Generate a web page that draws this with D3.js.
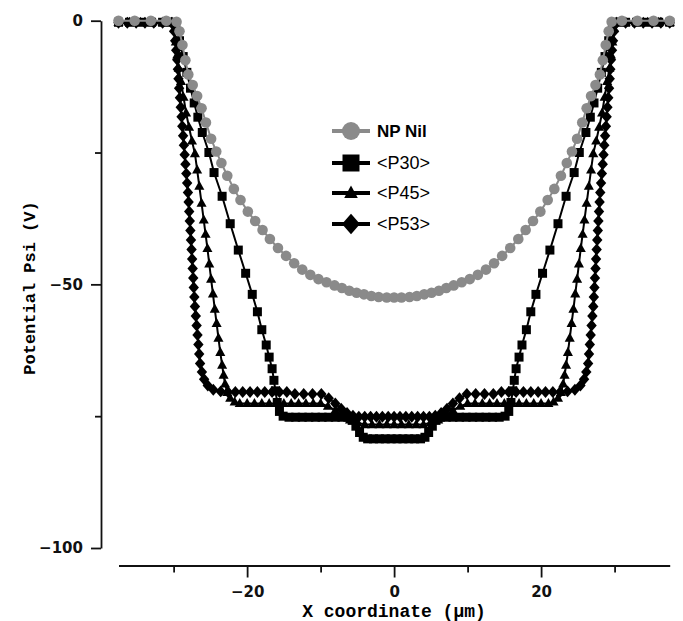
<!DOCTYPE html>
<html>
<head>
<meta charset="utf-8">
<script src="https://cdn.jsdelivr.net/npm/d3@7"></script>
<style>
  body { margin: 0; background: #fff; }
</style>
</head>
<body>
<svg id="chart" width="683" height="621"></svg>
<script>
// --- data (x in um, potential in V) ---
const seriesNames = ['NP Nil', '<P30>', '<P45>', '<P53>'];

const xNil = [-37.5,-35.3,-33.1,-31.0,-29.6,-29.2,-28.8,-28.4,-28.0,-27.4,-26.8,-26.2,-25.6,-24.9,-24.2,-23.5,-22.7,-21.8,-20.9,-19.9,
  -18.9,-17.9,-16.9,-15.8,-14.7,-13.6,-12.5,-11.4,-10.3,-9.2,-8.1,-7.1,-6.1,-5.1,-4.1,-3.1,-2.1,-1.0,0,
  1.0,2.1,3.1,4.1,5.1,6.1,7.1,8.1,9.2,10.3,11.4,12.5,13.6,14.7,15.8,16.9,17.9,18.9,19.9,
  20.9,21.8,22.7,23.5,24.2,24.9,25.6,26.2,26.8,27.4,28.0,28.4,28.8,29.2,29.6,31.0,33.1,35.3,37.5];
const yNil = [0,0,0,0,-0.2,-2.0,-4.6,-7.5,-10.2,-12.2,-14.3,-16.6,-19.3,-22.4,-24.8,-27.0,-29.4,-31.9,-34.0,-36.2,
  -38.0,-39.7,-41.4,-43.1,-44.6,-46.0,-47.2,-48.2,-49.0,-49.6,-50.2,-50.7,-51.2,-51.6,-51.9,-52.2,-52.4,-52.5,-52.5,
  -52.5,-52.4,-52.2,-51.9,-51.6,-51.2,-50.7,-50.2,-49.6,-49.0,-48.2,-47.2,-46.0,-44.6,-43.1,-41.4,-39.7,-38.0,-36.2,
  -34.0,-31.9,-29.4,-27.0,-24.8,-22.4,-19.3,-16.6,-14.3,-12.2,-10.2,-7.5,-4.6,-2.0,-0.2,0,0,0,0];

const xP30 = [-37.5,-36.0,-34.5,-33.0,-31.5,-30.3,-29.7,-29.2,-28.7,-28.2,-27.7,-27.2,-26.7,-26.1,
  -25.2,-24.5,-23.4,-22.3,-21.2,-20.2,-19.3,-18.6,-18.0,-17.4,-17.0,-16.6,-16.35,-16.15,-15.9,-15.6,-15.1,
  -14.3,-13.4,-12.5,-11.6,-10.7,-9.8,-8.9,-8.0,-7.1,-6.3,-5.7,-5.2,-4.7,-4.2,-3.6,-2.8,-2.0,-1.2,-0.4,
  0.4,1.2,2.0,2.8,3.6,4.2,4.7,5.2,5.7,6.3,7.1,8.0,8.9,9.8,10.7,11.6,12.5,13.4,14.3,
  15.1,15.6,15.9,16.15,16.35,16.6,17.0,17.4,18.0,18.6,19.3,20.2,21.2,22.3,23.4,24.5,25.2,
  26.1,26.7,27.2,27.7,28.2,28.7,29.2,29.7,30.3,31.5,33.0,34.5,36.0,37.5];
const yP30 = [-0.3,-0.3,-0.3,-0.3,-0.3,-0.3,-0.8,-3.8,-6.8,-9.8,-12.8,-15.6,-18.3,-21.2,
  -25.0,-28.8,-33.3,-38.5,-43.5,-47.9,-51.9,-55.2,-58.6,-61.5,-63.8,-66.0,-68.2,-70.2,-72.4,-74.1,-75.0,
  -75.2,-75.2,-75.2,-75.2,-75.2,-75.2,-75.2,-75.2,-75.2,-75.2,-75.8,-76.9,-78.1,-79.0,-79.3,-79.3,-79.3,-79.3,-79.3,
  -79.3,-79.3,-79.3,-79.3,-79.3,-79.0,-78.1,-76.9,-75.8,-75.2,-75.2,-75.2,-75.2,-75.2,-75.2,-75.2,-75.2,-75.2,-75.2,
  -75.0,-74.1,-72.4,-70.2,-68.2,-66.0,-63.8,-61.5,-58.6,-55.2,-51.9,-47.9,-43.5,-38.5,-33.3,-28.8,-25.0,
  -21.2,-18.3,-15.6,-12.8,-9.8,-6.8,-3.8,-0.8,-0.3,-0.3,-0.3,-0.3,-0.3,-0.3];

const xP45 = [-37.5,-36.0,-34.5,-33.0,-31.5,-30.2,
  -29.85,-29.7,-29.5,-29.3,-29.0,-28.65,-28.3,-27.9,-27.5,-27.1,-26.8,-26.5,-26.2,-25.9,-25.65,-25.4,-25.15,-24.9,-24.65,
  -24.4,-24.15,-23.9,-23.65,-23.4,-23.2,-23.0,-22.7,-22.3,-21.7,
  -21.0,-20.0,-19.0,-18.0,-17.0,-16.0,-15.0,-14.0,-13.0,-12.0,-11.0,-10.0,-9.0,-8.0,-7.0,-6.0,-5.0,
  -4.0,-3.0,-2.0,-1.0,0,1.0,2.0,3.0,4.0,
  5.0,6.0,7.0,8.0,9.0,10.0,11.0,12.0,13.0,14.0,15.0,16.0,17.0,18.0,19.0,20.0,21.0,
  21.7,22.3,22.7,23.0,23.2,23.4,23.65,23.9,24.15,24.4,24.65,24.9,25.15,25.4,25.65,25.9,26.2,26.5,26.8,
  27.1,27.5,27.9,28.3,28.65,29.0,29.3,29.5,29.7,29.85,30.2,31.5,33.0,34.5,36.0,37.5];
const yP45 = [-0.3,-0.3,-0.3,-0.3,-0.3,-0.3,
  -1.5,-4.0,-6.5,-9.0,-11.5,-14.5,-17.5,-20.2,-22.8,-25.2,-28.3,-31.4,-34.6,-37.8,-40.5,-43.2,-46.1,-49.0,-51.8,
  -54.7,-57.4,-60.2,-62.9,-65.3,-67.2,-68.9,-70.5,-71.6,-72.3,
  -72.6,-72.6,-72.6,-72.6,-72.6,-72.6,-72.6,-72.6,-72.6,-72.6,-72.6,-72.6,-73.1,-73.9,-74.9,-75.7,-76.2,
  -76.6,-76.6,-76.6,-76.6,-76.6,-76.6,-76.6,-76.6,-76.6,
  -76.2,-75.7,-74.9,-73.9,-73.1,-72.6,-72.6,-72.6,-72.6,-72.6,-72.6,-72.6,-72.6,-72.6,-72.6,-72.6,-72.6,
  -72.3,-71.6,-70.5,-68.9,-67.2,-65.3,-62.9,-60.2,-57.4,-54.7,-51.8,-49.0,-46.1,-43.2,-40.5,-37.8,-34.6,-31.4,-28.3,
  -25.2,-22.8,-20.2,-17.5,-14.5,-11.5,-9.0,-6.5,-4.0,-1.5,-0.3,-0.3,-0.3,-0.3,-0.3,-0.3];

const xP53 = [-37.5,-36.3,-35.1,-33.9,-32.7,-31.5,-30.3,
  -30.05,-29.93,-29.79,-29.65,-29.51,-29.42,-29.34,-29.25,-29.14,-29.03,-28.92,-28.82,-28.71,-28.60,-28.50,-28.39,
  -28.27,-28.16,-28.05,-27.96,-27.88,-27.80,-27.72,-27.64,-27.56,-27.48,-27.41,-27.33,-27.26,-27.18,-27.10,
  -26.98,-26.87,-26.75,-26.63,-26.52,-26.40,-26.15,-25.85,-25.35,
  -24.6,-23.6,-22.6,-21.6,-20.6,-19.6,-18.6,-17.6,-16.6,-15.6,-14.6,-13.5,-12.3,-11.1,-9.9,
  -8.9,-8.0,-7.2,-6.4,-5.6,-4.8,-4.0,-3.2,-2.4,-1.6,-0.8,0,0.8,1.6,2.4,3.2,4.0,4.8,
  5.6,6.4,7.2,8.0,8.9,9.9,11.1,12.3,13.5,14.6,15.6,16.6,17.6,18.6,19.6,20.6,21.6,22.6,23.6,24.6,
  25.35,25.85,26.15,26.40,26.52,26.63,26.75,26.87,26.98,27.10,27.18,27.26,27.33,27.41,27.48,27.56,27.64,27.72,
  27.80,27.88,27.96,28.05,28.16,28.27,28.39,28.50,28.60,28.71,28.82,28.92,29.03,29.14,29.25,29.34,29.42,29.51,
  29.65,29.79,29.93,30.05,30.3,31.5,32.7,33.9,35.1,36.3,37.5];
const yP53 = [-0.4,-0.4,-0.4,-0.4,-0.4,-0.4,-0.4,
  -0.6,-2.0,-3.8,-5.6,-7.4,-9.2,-11.0,-12.8,-14.6,-16.4,-18.2,-20.0,-21.8,-23.6,-25.4,-27.2,
  -29.0,-30.8,-32.6,-34.4,-36.2,-38.0,-39.8,-41.6,-43.4,-45.2,-47.0,-48.8,-50.6,-52.4,-54.2,
  -56.0,-57.8,-59.6,-61.4,-63.2,-65.0,-66.6,-68.0,-69.2,
  -70.0,-70.3,-70.4,-70.4,-70.4,-70.4,-70.4,-70.4,-70.4,-70.4,-70.4,-70.8,-70.8,-70.8,-70.8,
  -71.6,-72.6,-73.6,-74.4,-74.9,-75.1,-75.1,-75.1,-75.1,-75.1,-75.1,-75.1,-75.1,-75.1,-75.1,-75.1,-75.1,-75.1,
  -74.9,-74.4,-73.6,-72.6,-71.6,-70.8,-70.8,-70.8,-70.8,-70.4,-70.4,-70.4,-70.4,-70.4,-70.4,-70.4,-70.4,-70.4,-70.3,-70.0,
  -69.2,-68.0,-66.6,-65.0,-63.2,-61.4,-59.6,-57.8,-56.0,-54.2,-52.4,-50.6,-48.8,-47.0,-45.2,-43.4,-41.6,-39.8,
  -38.0,-36.2,-34.4,-32.6,-30.8,-29.0,-27.2,-25.4,-23.6,-21.8,-20.0,-18.2,-16.4,-14.6,-12.8,-11.0,-9.2,-7.4,
  -5.6,-3.8,-2.0,-0.6,-0.4,-0.4,-0.4,-0.4,-0.4,-0.4,-0.4];

const xMajorTicks = [-20, 0, 20];
const xMinorTicks = [-30, -10, 10, 30];
const yMajorTicks = [0, -50, -100];
const yMinorTicks = [-25, -75];

// --- layout ---
const svg = d3.select('#chart');
const x = d3.scaleLinear().domain([-37.5, 37.5]).range([118.5, 669.7]);
const y = d3.scaleLinear().domain([-100, 0]).range([548, 20.7]);

const gray = '#8a8a8a';
const shapes = {
  circle: r => `M${-r},0A${r},${r} 0 1,0 ${r},0A${r},${r} 0 1,0 ${-r},0Z`,
  square: r => `M${-r},${-r}H${r}V${r}H${-r}Z`,
  triangle: r => `M0,${-r * 1.15}L${r * 1.05},${r * 0.75}H${-r * 1.05}Z`,
  diamond: r => `M0,${-r * 1.15}L${r},0L0,${r * 1.15}L${-r},0Z`
};

// axes
const tickFont = 'DejaVu Sans, Verdana, sans-serif';
const titleFont = 'Liberation Mono, Courier New, monospace';

svg.append('g').attr('transform', 'translate(0,565.5)')
  .call(d3.axisBottom(x).tickValues(xMajorTicks).tickSize(12).tickSizeOuter(0).tickPadding(9));
svg.append('g').attr('transform', 'translate(0,565.5)')
  .call(d3.axisBottom(x).tickValues(xMinorTicks).tickSize(7).tickFormat(''))
  .select('.domain').remove();

svg.append('g').attr('transform', 'translate(101,0)')
  .call(d3.axisLeft(y).tickValues(yMajorTicks).tickSize(10).tickSizeOuter(0).tickPadding(8));
svg.append('g').attr('transform', 'translate(101,0)')
  .call(d3.axisLeft(y).tickValues(yMinorTicks).tickSize(6).tickFormat(''))
  .select('.domain').remove();

svg.selectAll('.domain, .tick line').attr('stroke', '#111').attr('stroke-width', 1.8);
svg.selectAll('.tick text')
  .attr('font-family', tickFont).attr('font-weight', 'bold')
  .attr('font-size', 15).attr('fill', '#111');

svg.append('text')
  .attr('x', 394).attr('y', 617)
  .attr('text-anchor', 'middle')
  .attr('font-family', titleFont).attr('font-weight', 'bold').attr('font-size', 18)
  .text('X coordinate (\u00b5m)');

svg.append('text')
  .attr('transform', 'translate(35,288) rotate(-90)')
  .attr('text-anchor', 'middle')
  .attr('font-family', titleFont).attr('font-weight', 'bold').attr('font-size', 17)
  .text('Potential Psi (V)');

// series
const plot = svg.append('g');
const line = d3.line().x(d => x(d[0])).y(d => y(d[1]));

function drawSeries(xs, ys, color, shape, r) {
  const pts = xs.map((v, i) => [v, ys[i]]);
  plot.append('path').datum(pts)
    .attr('d', line)
    .attr('fill', 'none')
    .attr('stroke', color)
    .attr('stroke-width', 2);
  plot.append('g').selectAll('path')
    .data(pts).enter().append('path')
    .attr('transform', d => `translate(${x(d[0])},${y(d[1])})`)
    .attr('d', shapes[shape](r))
    .attr('fill', color);
}

drawSeries(xP53, yP53, '#000', 'diamond', 5.2);
drawSeries(xP45, yP45, '#000', 'triangle', 4.8);
drawSeries(xP30, yP30, '#000', 'square', 4.5);
drawSeries(xNil, yNil, gray, 'circle', 5.3);

// legend
const legendRows = [
  { name: seriesNames[0], color: gray, shape: 'circle', r: 9, y: 131, bold: true },
  { name: seriesNames[1], color: '#000', shape: 'square', r: 8.5, y: 163, bold: false },
  { name: seriesNames[2], color: '#000', shape: 'triangle', r: 6.5, y: 193, bold: false },
  { name: seriesNames[3], color: '#000', shape: 'diamond', r: 9, y: 224, bold: false }
];
const legend = svg.append('g');
legendRows.forEach(row => {
  const g = legend.append('g').attr('transform', `translate(0,${row.y})`);
  g.append('line').attr('x1', 332).attr('x2', 370)
    .attr('stroke', row.color).attr('stroke-width', 4);
  g.append('path').attr('transform', 'translate(351,0)')
    .attr('d', shapes[row.shape](row.r)).attr('fill', row.color);
  g.append('text').attr('x', 377).attr('y', 6)
    .attr('font-family', 'Liberation Sans, Arial, sans-serif')
    .attr('font-weight', row.bold ? 'bold' : 'normal')
    .attr('font-size', row.bold ? 17 : 18)
    .text(row.name);
});
</script>
</body>
</html>
